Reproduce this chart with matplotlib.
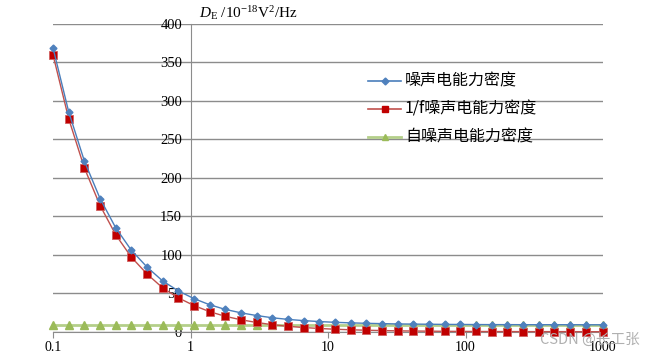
import matplotlib
matplotlib.use("Agg")
import matplotlib.pyplot as plt
from matplotlib.lines import Line2D

# frequency points (Hz): ~ratio 1.3 per step, 0.1 .. 1000
freq = [0.1, 0.13, 0.169, 0.22, 0.286, 0.371, 0.483, 0.627, 0.816, 1.06,
        1.38, 1.79, 2.33, 3.03, 3.94, 5.12, 6.65, 8.65, 11.2, 14.6,
        19.0, 24.7, 32.1, 41.7, 54.2, 70.5, 91.7, 119, 155, 201,
        262, 340, 442, 575, 747, 1000]
total = [369, 286, 222, 173, 135, 106, 84, 66, 53, 43,
         35, 29, 24.5, 21, 18.1, 16, 14.4, 13.2, 12.2, 11.5,
         10.9, 10.5, 10.1, 9.9, 9.7, 9.5, 9.4, 9.3, 9.2, 9.2,
         9.1, 9.1, 9.1, 9.1, 9.0, 9.0]
pink = [360, 277, 213, 164, 126, 97, 75, 57, 44, 34,
        26, 20, 15.5, 12, 9.1, 7.0, 5.4, 4.2, 3.2, 2.5,
        1.9, 1.5, 1.1, 0.9, 0.7, 0.5, 0.4, 0.3, 0.2, 0.2,
        0.1, 0.1, 0.1, 0.1, 0.0, 0.0]
white = [9.0] * len(freq)

labels = ["噪声电能力密度", "1/f噪声电能力密度", "自噪声电能力密度"]
x_ticks = [0.1, 1, 10, 100, 1000]
x_ticklabels = ["0.1", "1", "10", "100", "1000"]
y_ticks = list(range(0, 401, 50))

BLUE_L, BLUE_M = "#4A7EBB", "#4F81BD"
RED_L, RED_M = "#C0504D", "#C00000"
GREEN_L, GREEN_M = "#B4CF8A", "#9BBB59"
GRID = "#8C8C8C"
SERIF = "Liberation Serif"

plt.rcParams["mathtext.fontset"] = "custom"
plt.rcParams["mathtext.rm"] = SERIF
plt.rcParams["mathtext.it"] = SERIF + ":style=italic"

fig = plt.figure(figsize=(6.56, 3.54), dpi=100)
ax = fig.add_axes([53 / 656, (354 - 331.7) / 354, 550 / 656, 307.7 / 354])

ax.plot(freq, white, color=GREEN_L, lw=2.0, marker="^", ms=6,
        mfc=GREEN_M, mec=GREEN_M, clip_on=False, zorder=3)
ax.plot(freq, pink, color=RED_L, lw=1.0, marker="s", ms=5.5,
        mfc=RED_M, mec="#D06060", mew=0.6, clip_on=False, zorder=4)
ax.plot(freq, total, color=BLUE_L, lw=1.0, marker="D", ms=3.5,
        mfc=BLUE_M, mec=BLUE_M, clip_on=False, zorder=5)

ax.set_xscale("log")
ax.set_xlim(0.1, 1000)
ax.set_ylim(0, 400)
# y axis crosses at f = 1; set before the tick labels (it resets the ticks)
ax.spines[["top", "right"]].set_visible(False)
ax.spines["left"].set_position(("data", 1))
ax.spines["left"].set_color(GRID)
ax.spines["bottom"].set_color(GRID)

ax.set_xticks(x_ticks)
ax.set_xticklabels(x_ticklabels, family=SERIF, fontsize=10)
ax.minorticks_off()
ax.set_yticks(y_ticks)
ax.set_yticklabels([str(v) for v in y_ticks], family=SERIF, fontsize=10.5)

ax.tick_params(axis="x", direction="out", length=4, color=GRID, pad=2.5)
ax.tick_params(axis="y", length=0, pad=6)
ax.grid(True, axis="y", color=GRID, lw=1.0, zorder=0)
ax.set_axisbelow(True)

fig.text(199 / 656, 1 - 13 / 354, r"$D_{\mathrm{E}}$ /10$^{-18}$V$^{2}$/Hz",
         fontsize=11, ha="left", va="center", family=SERIF)

# legend drawn by hand at the reference position
leg = [(BLUE_L, BLUE_M, "D", 3.5), (RED_L, RED_M, "s", 5), (GREEN_L, GREEN_M, "^", 5)]
for i, ((lc, mc, mk, ms), lab) in enumerate(zip(leg, labels)):
    yy = 1 - (80.7 + 28 * i) / 354
    fig.add_artist(Line2D([368 / 656, 401 / 656], [yy, yy], color=lc,
                          lw=2.0 if i == 2 else 1.2))
    fig.add_artist(Line2D([384.5 / 656], [yy], marker=mk, ms=ms, color=mc, lw=0))
    fig.text(405 / 656, yy, lab, fontsize=11.5, va="center", ha="left",
             family=["Noto Sans CJK SC", "DejaVu Sans"])

fig.text(640 / 656, 1 - 340 / 354, "CSDN @长工张", fontsize=10.5, color="#B0B0B0",
         ha="right", va="center", family=["Noto Sans CJK SC", "DejaVu Sans"])

fig.savefig("out.png", dpi=100, facecolor="white")
